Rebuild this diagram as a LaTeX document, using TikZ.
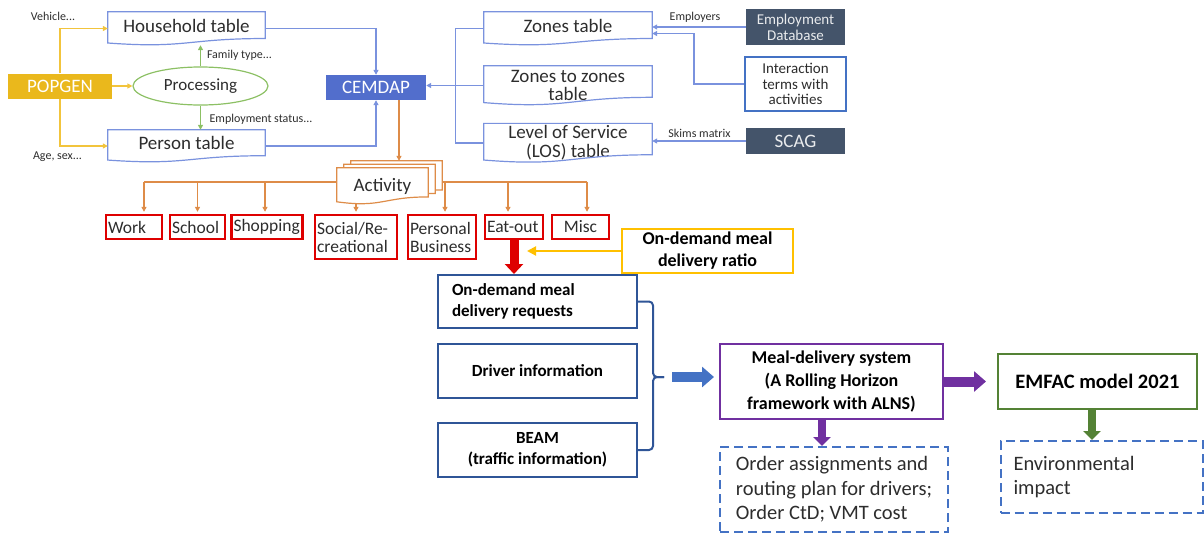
\documentclass[tikz,border=0pt]{standalone}
\usepackage{fontspec}
\setmainfont{Carlito}
\usetikzlibrary{arrows.meta, calc, shapes.geometric}

\definecolor{popgold}{RGB}{234,184,28}
\definecolor{popline}{RGB}{242,196,60}
\definecolor{cemblue}{RGB}{82,110,204}
\definecolor{docblue}{RGB}{122,146,222}
\definecolor{procgreen}{RGB}{140,192,100}
\definecolor{slate}{RGB}{68,84,106}
\definecolor{actorange}{RGB}{222,140,72}
\definecolor{boxred}{RGB}{222,0,0}
\definecolor{navyline}{RGB}{47,85,151}
\definecolor{midblue}{RGB}{68,114,196}
\definecolor{mdspurple}{RGB}{112,48,160}
\definecolor{emfgreen}{RGB}{84,130,53}
\definecolor{ratioyellow}{RGB}{255,192,0}
\definecolor{txtgray}{RGB}{45,45,45}

% outline of a "document" box with a wavy bottom
\newcommand{\docline}[2][]{%
  \draw[#1] (#2.north west) -- (#2.north east) -- ($(#2.north east)!0.8!(#2.south east)$)
    .. controls ($(#2.north)!0.8!(#2.south)$) and ($(#2.north)!1.107!(#2.south)$)
    .. ($(#2.north west)!0.934!(#2.south west)$) -- cycle;}

\begin{document}
\begin{tikzpicture}[x=1pt, y=-1pt,
	doc/.style={inner sep=2pt, align=center, text=txtgray, font=\fontsize{19}{19}\selectfont},
	oneline/.style={text height=13.5pt, text depth=6pt},
	note/.style={inner sep=1pt, text=txtgray, font=\fontsize{12}{14}\selectfont},
	filled/.style={fill=#1, text=white, inner sep=2pt, align=center},
	redbox/.style={draw=boxred, line width=2.4pt, inner xsep=2pt, inner ysep=1pt, align=flush left, text=txtgray, font=\fontsize{17.5}{18}\selectfont},
	navybox/.style={draw=navyline, line width=2pt, minimum width=199pt, minimum height=54pt, align=center, font=\bfseries\fontsize{17}{21}\selectfont},
	dashbox/.style={draw=midblue, line width=2pt, dash pattern=on 9pt off 5pt, align=left, text=txtgray, font=\fontsize{20.5}{24.5}\selectfont},
	arr/.style={line width=1.2pt, -{Triangle[length=5pt, width=5pt]}},
	blk/.style={line width=10pt, -{Triangle[length=12pt, width=20pt]}}]
	\useasboundingbox (0,0) rectangle (1204,533);
	% population synthesis
	\node[filled=popgold, minimum width=104pt, minimum height=25pt, font=\fontsize{19}{19}\selectfont] (popgen) at (60,86) {POPGEN};
	\node[ellipse, draw=procgreen, line width=1.2pt, minimum width=135pt, minimum height=38pt, text=txtgray, font=\fontsize{17}{17}\selectfont] (proc) at (200.5,86) {Processing};
	\node[doc, oneline, minimum width=157pt, minimum height=33pt] (hh) at (186.5,28.5) {Household table};
	\node[doc, oneline, minimum width=157pt, minimum height=32pt] (pp) at (186.5,146) {Person table};
	\docline[docblue, line width=1.2pt]{hh}
	\docline[docblue, line width=1.2pt]{pp}
	\node[note] (vehnote) at (53,16) {Vehicle...};
	\node[note] (agenote) at (57.5,157) {Age, sex...};
	\node[note] (famnote) at (239.5,55) {Family type...};
	\node[note] (empnote) at (261,119) {Employment status...};
	\node[filled=cemblue, minimum width=100pt, minimum height=25pt, font=\fontsize{19}{19}\selectfont] (cemdap) at (376,87.5) {CEMDAP};
	% zone data
	\node[doc, oneline, minimum width=168pt, minimum height=33pt] (zt) at (568,28.5) {Zones table};
	\node[doc, minimum width=168pt, minimum height=39pt, font=\fontsize{19}{18}\selectfont] (zz) at (568,85.5) {Zones to zones\\table};
	\node[doc, minimum width=168pt, minimum height=38pt] (los) at (568,143) {Level of Service\\(LOS) table};
	\docline[docblue, line width=1.2pt]{zt}
	\docline[docblue, line width=1.2pt]{zz}
	\docline[docblue, line width=1.2pt]{los}
	\node[filled=slate, minimum width=99pt, minimum height=36pt, text=white!88!slate, font=\fontsize{15}{16}\selectfont] (empdb) at (795.5,27) {Employment\\Database};
	\node[draw=midblue, line width=2.2pt, minimum width=101pt, minimum height=54pt, align=center, text=txtgray, font=\fontsize{15}{15.5}\selectfont] (inter) at (795.5,84) {Interaction\\terms with\\activities};
	\node[filled=slate, minimum width=99pt, minimum height=26pt, text=white!88!slate, font=\fontsize{19}{19}\selectfont] (scag) at (795.5,141) {SCAG};
	\node[note] (emplnote) at (695,17) {Employers};
	\node[note] (skimnote) at (699.5,133) {Skims matrix};
	% connectors, top part
	\draw[arr, popline] (popgen.north) |- (hh.west);
	\draw[arr, popline] (popgen.south) |- (pp.west);
	\draw[arr, popline] (popgen.east) -- (proc.west);
	\draw[arr, procgreen] (proc.north) -- (proc.north |- hh.south);
	\draw[arr, procgreen] (proc.south) -- (proc.south |- pp.north);
	\draw[arr, docblue] (hh.east) -| (cemdap.north);
	\draw[arr, docblue] (pp.east) -| (cemdap.south);
	\draw[arr, docblue] (zz.west) -- (zz.west -| cemdap.east);
	\draw[docblue, line width=1.2pt] (zt.west) -- ++(-28,0) |- (los.west);
	\draw[arr, docblue] (empdb.west) -- (empdb.west -| zt.east);
	\draw[arr, docblue] (inter.west) -- ++(-50,0) |- ([yshift=-5pt]zt.east);
	\draw[arr, docblue] (scag.west) -- (scag.west -| los.east);
	% activities
	\node[doc, minimum width=91pt, minimum height=36pt] (act3) at (396.5,179) {};
	\node[doc, minimum width=91pt, minimum height=36pt] (act2) at (389.5,182.5) {};
	\node[doc, minimum width=91pt, minimum height=36pt] (act) at (382.5,186) {};
	\docline[actorange, line width=1.2pt, fill=white]{act3}
	\docline[actorange, line width=1.2pt, fill=white]{act2}
	\docline[actorange, line width=1.2pt, fill=white]{act}
	\node[doc] (acttxt) at (act.center) {Activity};
	\coordinate (cemout) at ([xshift=23pt]cemdap.south);
	\draw[arr, actorange] (cemout) -- (cemout |- act3.north);
	\node[redbox, text width=52pt, minimum height=24pt] (work) at (134,227) {Work};
	\node[redbox, text width=51pt, minimum height=24pt] (school) at (197.5,227) {School};
	\node[redbox, text width=67pt, minimum height=24pt] (shop) at (267,227) {Shopping};
	\node[redbox, text width=78pt, minimum height=44pt] (social) at (356,237) {Social/Re-\\creational};
	\node[redbox, text width=64pt, minimum height=44pt] (pb) at (442,237) {Personal\\Business};
	\node[redbox, text width=54pt, minimum height=24pt] (eat) at (514,227) {Eat-out};
	\node[redbox, text width=53pt, minimum height=24pt, align=center] (misc) at (580.5,227) {Misc};
	\coordinate (busl) at (144,182);
	\coordinate (busr) at (587,182);
	\draw[actorange, line width=1.2pt] (act.west |- busl) -- (busl);
	\draw[actorange, line width=1.2pt] (act3.east |- busr) -- (busr);
	\foreach \n/\dx in {work/10, school/0, shop/-2, pb/3, eat/-6, misc/6.5}
		\draw[arr, actorange, shorten >=2pt] ([xshift=\dx pt]\n.north) ++(0,-32) -- ([xshift=\dx pt]\n.north);
	\draw[arr, actorange, shorten >=2pt] (social.north |- act.south) -- (social.north);
	% meal delivery part
	\node[draw=ratioyellow, line width=2pt, minimum width=171pt, minimum height=42pt, align=center, font=\bfseries\fontsize{18}{22}\selectfont] (ratio) at (707.5,251) {On-demand meal\\delivery ratio};
	\node[navybox, align=flush left, text width=171pt, inner xsep=14pt, minimum height=53pt] (req) at (537.5,301.5) {On-demand meal\\delivery requests};
	\node[navybox] (drv) at (537.5,371) {Driver information};
	\node[navybox] (beam) at (537.5,450) {BEAM\\(traffic information)};
	\node[draw=mdspurple, line width=2pt, minimum width=223pt, minimum height=75pt, align=center, font=\bfseries\fontsize{18}{23}\selectfont] (mds) at (831.5,381.5) {Meal-delivery system\\(A Rolling Horizon\\framework with ALNS)};
	\node[draw=emfgreen, line width=2pt, minimum width=199pt, minimum height=55pt, font=\bfseries\fontsize{20.5}{22}\selectfont] (emfac) at (1097.5,381.5) {EMFAC model 2021};
	\node[dashbox, minimum width=228pt, minimum height=85pt] (order) at (834,489.5) {Order assignments and\\routing plan for drivers;\\Order CtD; VMT cost};
	\node[dashbox, align=flush left, text width=176pt, inner xsep=13pt, minimum height=72pt] (env) at (1101.5,477) {Environmental\\impact};
	\draw[boxred, line width=9pt, -{Triangle[length=10pt, width=18pt]}] (eat.south) -- (eat.south |- req.north);
	\coordinate (eatr) at ([xshift=13pt]eat.south);
	\draw[ratioyellow, line width=2pt, -{Triangle[length=9pt, width=9pt]}] (ratio.west) -- (eatr |- ratio.west);
	\coordinate (brc) at (653,377);
	\draw[navyline, line width=2pt, rounded corners=4pt] (req.east) -| (brc) -- ++(11,0);
	\draw[navyline, line width=2pt, rounded corners=4pt] (beam.east) -| (brc) -- ++(11,0);
	\draw[blk, midblue, shorten >=5pt] ([xshift=19pt]brc) -- (brc -| mds.west);
	\draw[blk, mdspurple, shorten >=11pt] (mds.east) -- (emfac.west);
	\coordinate (mdsout) at ([xshift=-9.5pt]mds.south);
	\draw[mdspurple, line width=8pt, -{Triangle[length=9pt, width=17pt]}] (mdsout) -- (mdsout |- order.north);
	\coordinate (emfout) at ([xshift=-5.5pt]emfac.south);
	\draw[emfgreen, line width=8pt, -{Triangle[length=9pt, width=17pt]}] (emfout) -- (emfout |- env.north);
\end{tikzpicture}
\end{document}
